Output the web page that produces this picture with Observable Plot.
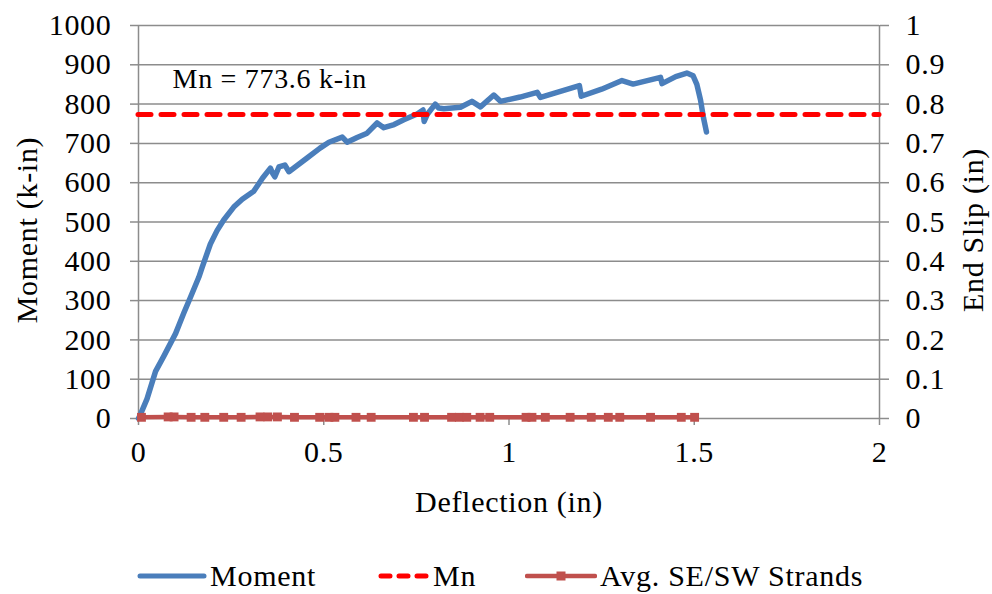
<!DOCTYPE html>
<html>
<head>
<meta charset="utf-8">
<script src="https://cdn.jsdelivr.net/npm/d3@7"></script>
<script src="https://cdn.jsdelivr.net/npm/@observablehq/plot@0.6"></script>
<style>
  html, body { margin: 0; padding: 0; background: #fff; }
  #wrap { position: relative; width: 992px; height: 594px; overflow: hidden; font-family: "Liberation Serif"; }
  #legend { position: absolute; left: 0; top: 551px; width: 992px; height: 49px; }
  .li { position: absolute; top: 0; height: 49px; display: flex; align-items: center; font-size: 30px; letter-spacing: 0.75px; color: #000; white-space: nowrap; }
  .li svg { display: block; }
</style>
</head>
<body>
<div id="wrap">
  <div id="chart"></div>
  <div id="legend"></div>
</div>
<script>
// ---- data ----
const momentDefl = [0, 0.005, 0.023, 0.046, 0.068, 0.1, 0.122, 0.14, 0.163, 0.172, 0.194, 0.212, 0.23, 0.257, 0.28, 0.311, 0.335, 0.356, 0.362, 0.368, 0.379, 0.395, 0.406, 0.43, 0.455, 0.49, 0.514, 0.55, 0.556, 0.563, 0.59, 0.617, 0.644, 0.662, 0.69, 0.716, 0.752, 0.768, 0.771, 0.78, 0.801, 0.81, 0.824, 0.869, 0.9, 0.923, 0.959, 0.977, 1.03, 1.076, 1.085, 1.19, 1.195, 1.25, 1.305, 1.335, 1.409, 1.413, 1.45, 1.48, 1.497, 1.507, 1.517, 1.525, 1.533];
const momentVals = [0, 10, 50, 120, 158, 216, 268, 308, 360, 385, 444, 478, 505, 538, 558, 578, 612, 637, 624, 615, 640, 645, 628, 645, 663, 688, 703, 716, 710, 703, 715, 726, 752, 740, 748, 760, 775, 785, 756, 775, 800, 790, 788, 792, 807, 793, 823, 807, 818, 830, 817, 847, 820, 838, 860, 851, 868, 852, 870, 879, 872, 850, 810, 765, 729];

const slipDefl = [0.008, 0.08, 0.096, 0.142, 0.179, 0.23, 0.277, 0.328, 0.349, 0.375, 0.421, 0.489, 0.514, 0.53, 0.587, 0.628, 0.742, 0.772, 0.845, 0.866, 0.886, 0.922, 0.948, 1.046, 1.062, 1.098, 1.165, 1.222, 1.268, 1.299, 1.382, 1.465, 1.501];
const slipVals = [0.003, 0.004, 0.004, 0.003, 0.003, 0.003, 0.003, 0.004, 0.004, 0.004, 0.003, 0.003, 0.003, 0.003, 0.003, 0.003, 0.003, 0.003, 0.003, 0.003, 0.003, 0.003, 0.003, 0.003, 0.003, 0.003, 0.003, 0.003, 0.003, 0.003, 0.003, 0.003, 0.003];

const mnValue = 773.6;
const mnLabel = "Mn = 773.6 k-in";
const xTicks = [0, 0.5, 1, 1.5, 2];
const yTicks = [0, 100, 200, 300, 400, 500, 600, 700, 800, 900, 1000];
const slipTicks = ["0", "0.1", "0.2", "0.3", "0.4", "0.5", "0.6", "0.7", "0.8", "0.9", "1"];
const seriesNames = ["Moment", "Mn", "Avg. SE/SW Strands"];
const xLabel = "Deflection (in)";
const yLabel = "Moment (k-in)";
const y2Label = "End Slip (in)";

// ---- tables ----
const slipMax = 1, momentMax = 1000;
const moment = momentDefl.map((x, i) => ({x, y: momentVals[i]}));
const slip = slipDefl.map((x, i) => ({x, y: slipVals[i] * momentMax / slipMax}));

const grid = "#8c8c8c";
const blue = "#4a7ebb";
const red = "#ff0000";
const brown = "#c0504d";
const FONT = "Liberation Serif";

const chart = Plot.plot({
  width: 992,
  height: 545,
  marginLeft: 138,
  marginRight: 113,
  marginTop: 25,
  marginBottom: 127,
  x: {domain: [0, 2]},
  y: {domain: [0, 1000]},
  style: {fontFamily: FONT, fontSize: "30px", letterSpacing: "0.7px", color: "#000", background: "#fff", overflow: "visible"},
  marks: [
    Plot.ruleY(yTicks.filter(d => d > 0), {x1: 0, x2: 2, stroke: grid, strokeWidth: 1.5}),
    Plot.axisY({anchor: "left", ticks: yTicks, tickSize: 8, tickPadding: 19, label: null, stroke: grid, strokeWidth: 1.5, fill: "#000", tickFormat: d => String(d)}),
    Plot.axisY({anchor: "right", ticks: yTicks, tickSize: 9, tickPadding: 17, label: null, stroke: grid, strokeWidth: 1.5, fill: "#000", tickFormat: (d, i) => slipTicks[i]}),
    Plot.axisX({ticks: xTicks, tickSize: 7, tickPadding: 15, label: null, stroke: grid, strokeWidth: 1.5, fill: "#000", tickFormat: d => String(d)}),
    Plot.ruleX([0], {y1: 0, y2: 1000, stroke: grid, strokeWidth: 1.5}),
    Plot.ruleX([2], {y1: 0, y2: 1000, stroke: grid, strokeWidth: 1.5}),
    Plot.ruleY([0], {x1: 0, x2: 2, stroke: grid, strokeWidth: 1.5}),
    Plot.line(moment, {x: "x", y: "y", stroke: blue, strokeWidth: 5.5, strokeLinejoin: "round", strokeLinecap: "round"}),
    Plot.ruleY([mnValue], {x1: 0, x2: 2, stroke: red, strokeWidth: 5, strokeDasharray: "13,10", strokeLinecap: "round"}),
    Plot.line(slip, {x: "x", y: "y", stroke: brown, strokeWidth: 4.5}),
    Plot.dot(slip, {x: "x", y: "y", symbol: "square", r: 5, fill: brown, stroke: "none"}),
    Plot.text([mnLabel], {x: 0.092, y: 863, text: d => d, textAnchor: "start", fontSize: 28, fill: "#000"}),
    Plot.text([xLabel], {frameAnchor: "bottom", dy: 93, text: d => d, fill: "#000"}),
    Plot.text([yLabel], {frameAnchor: "left", textAnchor: "middle", dx: -111, dy: 8, rotate: -90, text: d => d, fill: "#000"}),
    Plot.text([y2Label], {frameAnchor: "right", textAnchor: "middle", dx: 94, dy: 8, rotate: -90, text: d => d, fill: "#000"})
  ]
});
document.getElementById("chart").appendChild(chart);

// ---- legend ----
const legend = document.getElementById("legend");
function item(left, svgContent, sw, label) {
  const d = document.createElement("div");
  d.className = "li";
  d.style.left = left + "px";
  d.innerHTML = `<svg width="${sw}" height="20" viewBox="0 0 ${sw} 20">${svgContent}</svg><span style="margin-left:3px">${label}</span>`;
  legend.appendChild(d);
}
item(137, `<line x1="3" y1="10" x2="67" y2="10" stroke="${blue}" stroke-width="5" stroke-linecap="round"/>`, 70, seriesNames[0]);
item(378, `<line x1="3" y1="10" x2="49" y2="10" stroke="${red}" stroke-width="5" stroke-dasharray="9,9" stroke-linecap="round"/>`, 52, seriesNames[1]);
item(525, `<line x1="2" y1="10" x2="70" y2="10" stroke="${brown}" stroke-width="4.5" stroke-linecap="round"/><rect x="31.5" y="5.5" width="9" height="9" fill="${brown}"/>`, 72, seriesNames[2]);
</script>
</body>
</html>
